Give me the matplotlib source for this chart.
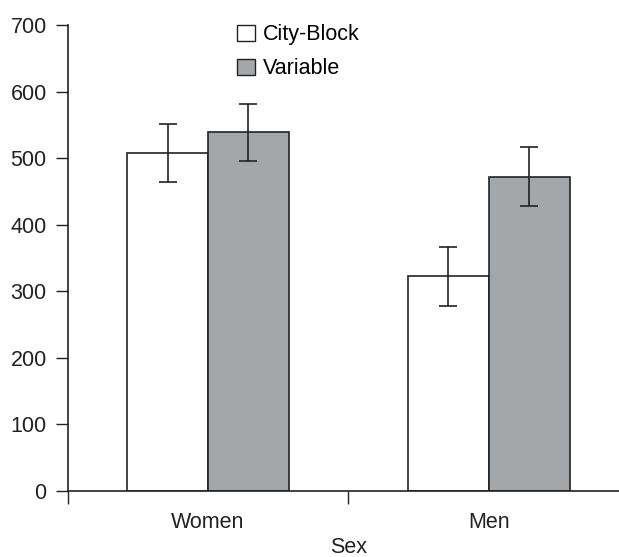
import numpy as np
import matplotlib.pyplot as plt
from matplotlib.patches import Patch

plt.rcParams['font.family'] = ['Liberation Sans', 'DejaVu Sans']

# data
groups = ['Women', 'Men']
series = ['City-Block', 'Variable']
means = {'City-Block': [507, 323], 'Variable': [539, 471]}
err_low = {'City-Block': [43, 45], 'Variable': [43, 43]}
err_high = {'City-Block': [44, 44], 'Variable': [43, 46]}
colors = {'City-Block': 'white', 'Variable': '#a4a7a9'}

fs = 15.5
fig = plt.figure(figsize=(6.19, 5.57), dpi=100)
ax = fig.add_axes([67.5 / 619, 66 / 557, 1 - 67.5 / 619, 466 / 557])

x = np.arange(len(groups))
width = 0.288
edge = '#222222'
for i, s in enumerate(series):
    pos = x + (i - 0.5) * width
    ax.bar(pos, means[s], width, color=colors[s], edgecolor=edge, linewidth=1.2, zorder=2)
    ax.errorbar(pos, means[s], yerr=[err_low[s], err_high[s]], fmt='none',
                ecolor=edge, elinewidth=1.2, capsize=6.5, capthick=1.2, zorder=3)

ax.set_xlim(-0.5, 1.463)
ax.set_ylim(0, 700)
ax.set_yticks(range(0, 701, 100))
ax.tick_params(axis='y', direction='out', length=9, width=1, labelsize=fs, pad=6, colors='#222222')

# ticks at group boundaries, labels at group centres
ax.set_xticks([-0.5, 0.5])
ax.set_xticklabels(['', ''])
ax.tick_params(axis='x', which='major', direction='out', length=9, width=1, color='#222222')
ax.set_xticks(x, minor=True)
ax.set_xticklabels(groups, minor=True, fontsize=fs, color='#222222')
ax.tick_params(axis='x', which='minor', length=0, pad=15)
ax.set_xlabel('Sex', fontsize=fs, color='#222222')
ax.xaxis.set_label_coords((349 - 67.5) / (619 - 67.5), -0.098)

for side in ['top', 'right']:
    ax.spines[side].set_visible(False)
for side in ['left', 'bottom']:
    ax.spines[side].set_linewidth(1.2)
    ax.spines[side].set_color('#222222')

handles = [Patch(facecolor=colors[s], edgecolor=edge, linewidth=1) for s in series]
ax.legend(handles, series, loc='upper left', bbox_to_anchor=(218 / 619, 1 - 5 / 557),
          bbox_transform=fig.transFigure, frameon=False, fontsize=fs,
          handlelength=0.8, handleheight=0.8, handletextpad=0.4, labelspacing=0.6)

fig.savefig('out.png', dpi=100)
